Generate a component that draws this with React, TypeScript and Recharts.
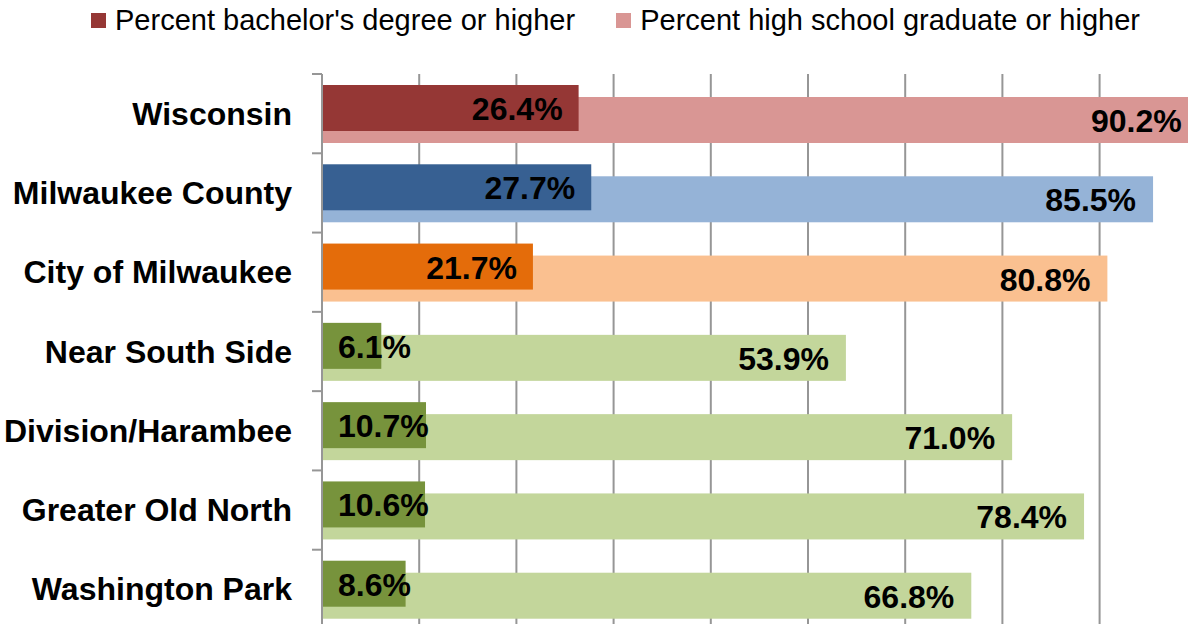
import React from 'react';
import { BarChart, Bar, XAxis, YAxis, CartesianGrid, Cell, LabelList, Legend } from 'recharts';

const categories = [
  'Wisconsin',
  'Milwaukee County',
  'City of Milwaukee',
  'Near South Side',
  'Division/Harambee',
  'Greater Old North',
  'Washington Park',
];
const bachelorValues = [26.4, 27.7, 21.7, 6.1, 10.7, 10.6, 8.6];
const highSchoolValues = [90.2, 85.5, 80.8, 53.9, 71.0, 78.4, 66.8];
const darkColors = ['#953735', '#376092', '#E46C0A', '#77933C', '#77933C', '#77933C', '#77933C'];
const lightColors = ['#D99694', '#95B3D7', '#FAC090', '#C3D69B', '#C3D69B', '#C3D69B', '#C3D69B'];
const xTicks = [0, 10, 20, 30, 40, 50, 60, 70, 80, 90, 100];
const seriesNames = {
  bachelor: "Percent bachelor's degree or higher",
  highSchool: 'Percent high school graduate or higher',
};

const data = categories.map((name, i) => ({
  name,
  bachelor: bachelorValues[i],
  highSchool: highSchoolValues[i],
}));

const FONT = '"Liberation Sans", Arial, Helvetica, sans-serif';
const LABEL_SIZE = 32;
const SHIFT = 6;
const GRID = '#969696';

const estWidth = (s: string, size: number) => {
  let w = 0;
  for (const c of s) {
    if (c === '.') w += 0.278;
    else if (c === '%') w += 0.889;
    else w += 0.556;
  }
  return w * size;
};

const makeShape = (dy: number) => (props: any) => {
  const { x, y, width, height, fill } = props;
  if (width == null || height == null) return null;
  return <rect x={x} y={y + dy} width={Math.max(0, width)} height={height} fill={fill} />;
};

const makeLabel = (dy: number, pad: number) => (props: any) => {
  const { x, y, width, height, value } = props;
  const text = `${Number(value).toFixed(1)}%`;
  const tw = estWidth(text, LABEL_SIZE);
  const fits = tw + pad * 2 <= width;
  const tx = fits ? x + width - pad : x + 16;
  return (
    <text
      x={tx}
      y={y + height / 2 + dy + 1}
      textAnchor={fits ? 'end' : 'start'}
      dominantBaseline="central"
      fontFamily={FONT}
      fontSize={LABEL_SIZE}
      fontWeight="bold"
      fill="#000"
    >
      {text}
    </text>
  );
};

const CategoryTick = (props: any) => {
  const { x, y, payload } = props;
  const half = payload && payload.offset ? payload.offset : 39.6;
  return (
    <g>
      <line x1={x + 20} x2={x + 30} y1={y - half} y2={y - half} stroke={GRID} strokeWidth={2} />
      <text
        x={x}
        y={y}
        textAnchor="end"
        dominantBaseline="central"
        fontFamily={FONT}
        fontSize={LABEL_SIZE}
        fontWeight="bold"
        fill="#000"
      >
        {payload.value}
      </text>
    </g>
  );
};

const LegendContent = (props: any) => {
  const items = [...(props.payload || [])].sort((a: any, b: any) =>
    a.dataKey === 'bachelor' ? -1 : b.dataKey === 'bachelor' ? 1 : 0
  );
  return (
    <div
      style={{
        height: 74,
        width: 1188,
        display: 'flex',
        alignItems: 'flex-start',
        paddingLeft: 91,
        paddingTop: 6,
        boxSizing: 'border-box',
        fontFamily: FONT,
        fontSize: 29,
        lineHeight: '29px',
        color: '#000',
      }}
    >
      {items.map((it: any, i: number) => (
        <div key={i} style={{ display: 'flex', alignItems: 'center', marginRight: 41, whiteSpace: 'nowrap' }}>
          <span style={{ display: 'inline-block', width: 15, height: 15, background: it.color, marginRight: 9 }} />
          <span>{it.value}</span>
        </div>
      ))}
    </div>
  );
};

export default function App() {
  return (
    <div
      style={{
        position: 'absolute',
        left: 0,
        top: 0,
        width: 1188,
        height: 624,
        overflow: 'hidden',
        background: '#fff',
      }}
    >
      <BarChart
        width={1294}
        height={629}
        data={data}
        layout="vertical"
        margin={{ top: 0, right: 0, bottom: 0, left: 0 }}
        barGap={-46}
      >
        <CartesianGrid horizontal={false} vertical={true} stroke={GRID} strokeWidth={2} />
        <XAxis type="number" domain={[0, 100]} ticks={xTicks} hide allowDataOverflow />
        <YAxis
          type="category"
          dataKey="name"
          width={322}
          axisLine={{ stroke: GRID, strokeWidth: 2 }}
          tickLine={{ stroke: 'none' }}
          tickSize={10}
          tickMargin={20}
          tick={<CategoryTick />}
          interval={0}
        />
        <Legend verticalAlign="top" align="left" content={<LegendContent />} />
        <Bar
          dataKey="highSchool"
          name={seriesNames.highSchool}
          fill={lightColors[0]}
          barSize={46}
          shape={makeShape(SHIFT)}
          isAnimationActive={false}
        >
          {data.map((_, i) => (
            <Cell key={i} fill={lightColors[i]} />
          ))}
          <LabelList dataKey="highSchool" content={makeLabel(SHIFT, 17)} />
        </Bar>
        <Bar
          dataKey="bachelor"
          name={seriesNames.bachelor}
          fill={darkColors[0]}
          barSize={46}
          shape={makeShape(-SHIFT)}
          isAnimationActive={false}
        >
          {data.map((_, i) => (
            <Cell key={i} fill={darkColors[i]} />
          ))}
          <LabelList dataKey="bachelor" content={makeLabel(-SHIFT, 16)} />
        </Bar>
      </BarChart>
    </div>
  );
}
